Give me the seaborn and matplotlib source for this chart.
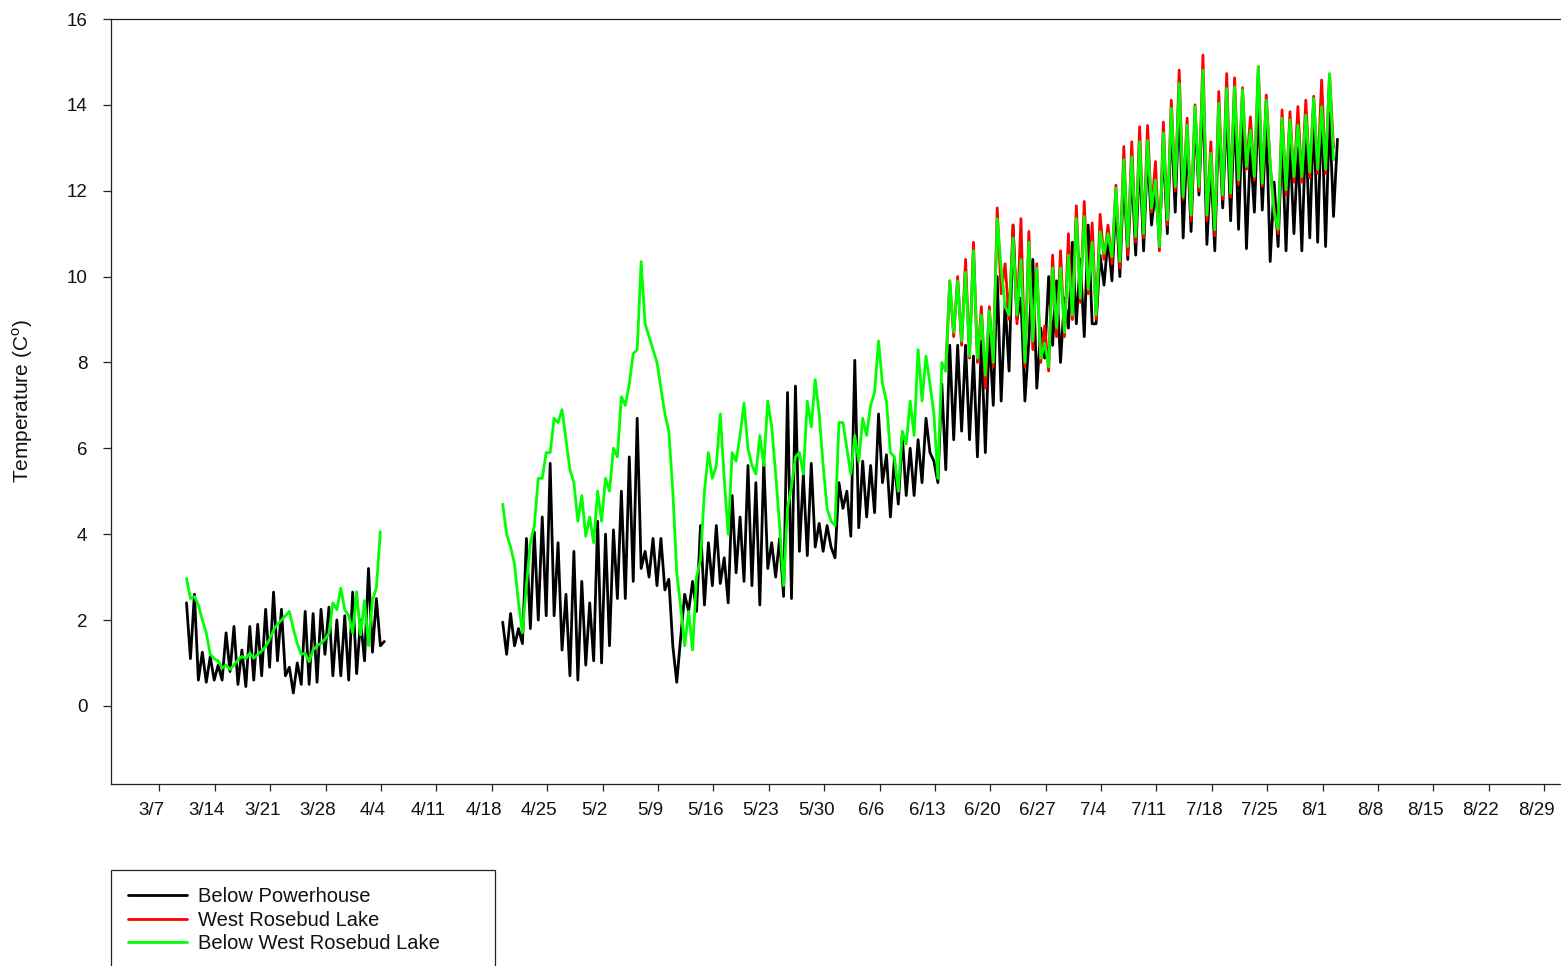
import numpy as np
import pandas as pd
import matplotlib
matplotlib.use("Agg")
import matplotlib.pyplot as plt
from matplotlib.transforms import ScaledTranslation
from matplotlib.lines import Line2D
import seaborn as sns

# ---------------------------------------------------------------------------
# Water temperature (deg C), 12-hourly readings, two logging deployments
# ---------------------------------------------------------------------------
series_names = ["Below Powerhouse", "West Rosebud Lake", "Below West Rosebud Lake"]
series_colors = ["#000000", "#ff0000", "#00ff00"]

# first deployment
spring_start = "2003-03-10 10:00"
powerhouse_spring = [
    2.4, 1.1, 2.6, 0.6, 1.25, 0.55, 1.15, 0.6, 0.95, 0.6,
    1.7, 0.8, 1.85, 0.5, 1.3, 0.45, 1.85, 0.6, 1.9, 0.7,
    2.25, 0.9, 2.65, 1.05, 2.25, 0.7, 0.9, 0.3, 1.0, 0.5,
    2.2, 0.5, 2.15, 0.55, 2.25, 1.2, 2.3, 0.7, 2.0, 0.7,
    2.1, 0.6, 2.65, 0.75, 2.0, 1.05, 3.2, 1.25, 2.5, 1.4,
    1.5,
]
below_lake_spring = [
    2.97, 2.5, 2.55, 2.35, 2.0, 1.7, 1.2, 1.1, 1.05, 0.88,
    0.95, 0.85, 0.95, 1.07, 1.15, 1.1, 1.23, 1.11, 1.2, 1.28,
    1.38, 1.55, 1.77, 1.9, 2.0, 2.1, 2.2, 1.8, 1.45, 1.2,
    1.23, 1.03, 1.3, 1.4, 1.46, 1.55, 1.69, 2.4, 2.24, 2.74,
    2.24, 2.1, 1.7, 2.66, 1.65, 2.45, 1.4, 2.47, 2.75, 4.06,
]

# second deployment
summer_start = "2003-04-19 09:00"
powerhouse_summer = [
    1.95, 1.2, 2.15, 1.4, 1.8, 1.45, 3.9, 1.8, 4.05, 2.0,
    4.4, 2.1, 5.65, 2.1, 3.8, 1.3, 2.6, 0.7, 3.6, 0.6,
    2.9, 0.95, 2.4, 1.05, 4.3, 1.0, 4.0, 1.4, 4.1, 2.5,
    5.0, 2.5, 5.8, 2.9, 6.7, 3.2, 3.6, 3.0, 3.9, 2.8,
    3.9, 2.7, 2.95, 1.4, 0.55, 1.6, 2.6, 2.2, 2.9, 2.2,
    4.2, 2.35, 3.8, 2.8, 4.2, 2.85, 3.45, 2.4, 4.9, 3.1,
    4.4, 2.9, 5.6, 2.8, 5.2, 2.35, 5.7, 3.2, 3.8, 3.0,
    3.9, 2.55, 7.3, 2.5, 7.45, 3.6, 5.4, 3.5, 5.65, 3.7,
    4.25, 3.6, 4.2, 3.7, 3.45, 5.2, 4.6, 5.0, 3.95, 8.05,
    4.15, 5.7, 4.4, 5.6, 4.5, 6.8, 5.2, 5.85, 4.4, 5.75,
    4.7, 6.3, 4.9, 6.0, 4.9, 6.2, 5.2, 6.7, 5.9, 5.7,
    5.2, 7.5, 5.5, 8.4, 6.2, 8.4, 6.4, 8.4, 6.2, 8.15,
    5.8, 8.5, 5.9, 8.7, 7.0, 10.0, 7.1, 9.4, 7.8, 11.2,
    9.0, 9.5, 7.1, 8.5, 10.4, 7.4, 8.8, 8.1, 10.0, 8.4,
    9.9, 8.0, 9.5, 8.8, 10.8, 8.9, 10.4, 8.6, 11.2, 8.9,
    8.9, 10.5, 9.8, 10.9, 9.9, 11.8, 10.0, 12.4, 10.4, 12.5,
    10.5, 12.8, 10.6, 12.9, 11.2, 12.0, 10.9, 13.0, 11.0, 13.6,
    11.5, 14.2, 10.9, 13.2, 11.05, 13.7, 11.9, 14.3, 10.75, 12.6,
    10.6, 13.7, 11.6, 13.9, 11.3, 13.9, 11.1, 13.8, 10.65, 13.0,
    11.5, 14.0, 11.55, 13.6, 10.35, 12.2, 10.7, 13.2, 10.6, 13.1,
    11.0, 13.0, 10.6, 13.4, 10.9, 13.8, 10.8, 14.0, 10.7, 13.8,
    11.4, 13.2,
]
below_lake_summer = [
    4.7, 4.0, 3.7, 3.3, 2.4, 1.7, 2.8, 3.8, 4.2, 5.3,
    5.3, 5.9, 5.9, 6.7, 6.6, 6.9, 6.2, 5.5, 5.2, 4.3,
    4.9, 3.95, 4.4, 3.8, 5.0, 4.3, 5.3, 5.0, 6.0, 5.8,
    7.2, 7.0, 7.5, 8.2, 8.3, 10.35, 8.9, 8.6, 8.3, 8.0,
    7.4, 6.8, 6.4, 5.0, 3.1, 2.3, 1.4, 2.2, 1.3, 3.0,
    3.4, 5.0, 5.9, 5.3, 5.6, 6.8, 5.3, 4.0, 5.9, 5.7,
    6.3, 7.05, 6.0, 5.6, 5.4, 6.3, 5.6, 7.1, 6.5, 5.4,
    4.2, 2.8, 4.6, 5.1, 5.8, 5.9, 5.4, 7.1, 6.5, 7.6,
    6.8, 5.6, 4.6, 4.3, 4.2, 6.6, 6.6, 6.0, 5.4, 6.3,
    5.7, 6.7, 6.3, 7.0, 7.3, 8.5, 7.5, 7.1, 5.9, 5.8,
    5.0, 6.4, 6.1, 7.1, 6.3, 8.3, 7.1, 8.15, 7.5, 6.8,
    5.3, 8.0, 7.8, 9.9, 8.7, 9.9, 8.5, 10.1, 8.15, 10.6,
    8.1, 9.1, 7.7, 9.2, 8.0, 11.35, 10.2, 9.3, 9.1, 10.9,
    9.1, 10.4, 8.0, 10.8, 8.5, 10.2, 8.1, 8.45, 7.9, 10.2,
    8.8, 10.2, 8.7, 10.5, 9.1, 11.35, 9.5, 11.4, 9.7, 10.8,
    9.1, 11.05, 10.54, 11.0, 10.46, 12.06, 10.35, 12.72, 10.7, 12.79,
    10.93, 13.14, 11.0, 13.17, 11.59, 12.25, 10.7, 13.34, 11.32, 13.92,
    12.09, 14.5, 11.86, 13.53, 11.43, 13.96, 12.09, 14.81, 11.43, 12.87,
    11.09, 14.04, 11.9, 14.38, 11.94, 14.42, 12.25, 14.35, 12.56, 13.41,
    12.33, 14.89, 12.17, 14.11, 12.6, 11.5, 11.1, 13.69, 12.02, 13.65,
    12.33, 13.53, 12.33, 13.76, 12.43, 14.15, 12.5, 13.96, 12.5, 14.73,
    12.72,
]

# lake logger, deployed mid-June
lake_start = "2003-06-14 09:00"
lake_summer = [
    7.8, 9.9, 8.6, 10.0, 8.4, 10.4, 8.1, 10.8,
    8.0, 9.3, 7.4, 9.3, 7.9, 11.6, 9.6, 10.3, 9.0, 11.2,
    8.9, 11.35, 7.9, 11.05, 8.3, 10.3, 8.0, 8.85, 7.8, 10.5,
    8.6, 10.6, 8.6, 11.0, 9.0, 11.65, 9.4, 11.75, 9.6, 11.25,
    9.0, 11.45, 10.4, 11.2, 10.3, 12.13, 10.2, 13.03, 10.5, 13.14,
    10.8, 13.49, 10.9, 13.52, 11.5, 12.68, 10.6, 13.6, 11.2, 14.11,
    12.0, 14.81, 11.8, 13.69, 11.3, 14.0, 12.0, 15.16, 11.3, 13.14,
    10.95, 14.31, 11.8, 14.73, 11.85, 14.63, 12.15, 14.4, 12.5, 13.72,
    12.25, 14.89, 12.1, 14.23, 12.6, 11.55, 11.0, 13.88, 11.9, 13.84,
    12.2, 13.96, 12.2, 14.11, 12.3, 14.2, 12.4, 14.58, 12.4, 14.7,
    13.0,
]

week_labels = ["3/7", "3/14", "3/21", "3/28", "4/4", "4/11", "4/18", "4/25",
               "5/2", "5/9", "5/16", "5/23", "5/30", "6/6", "6/13", "6/20",
               "6/27", "7/4", "7/11", "7/18", "7/25", "8/1", "8/8", "8/15",
               "8/22", "8/29"]
y_ticks = [0, 2, 4, 6, 8, 10, 12, 14, 16]


def deployment(values, start, series, seg):
    times = pd.date_range(start, periods=len(values), freq="12h")
    return pd.DataFrame({"time": times, "temp": values,
                         "series": series, "segment": seg})


frames = {
    series_names[0]: [deployment(powerhouse_spring, spring_start, series_names[0], "spring"),
                      deployment(powerhouse_summer, summer_start, series_names[0], "summer")],
    series_names[1]: [deployment(lake_summer, lake_start, series_names[1], "summer")],
    series_names[2]: [deployment(below_lake_spring, spring_start, series_names[2], "spring"),
                      deployment(below_lake_summer, summer_start, series_names[2], "summer")],
}

sns.set_theme(style="ticks")
plt.rcParams["font.family"] = ["Liberation Sans", "DejaVu Sans"]
plt.rcParams["mathtext.fontset"] = "custom"
plt.rcParams["mathtext.rm"] = "Liberation Sans"

W, H = 1561, 966
fig = plt.figure(figsize=(W / 100, H / 100), dpi=100)
ax = fig.add_axes([111 / W, 1 - 784 / H, (1560 - 111) / W, (784 - 19) / H])

LW = 2.0
for name, color in zip(series_names, series_colors):
    data = pd.concat(frames[name], ignore_index=True)
    sns.lineplot(data=data, x="time", y="temp", units="segment", estimator=None,
                 color=color, linewidth=LW, sort=False, legend=False, ax=ax)

tick_dates = pd.to_datetime([f"2003/{lab}" for lab in week_labels], format="%Y/%m/%d")
ax.set_xticks(tick_dates)
ax.set_xticklabels(week_labels)
ax.set_xlim(pd.Timestamp("2003-02-28 21:00"), pd.Timestamp("2003-08-31 00:00"))
ax.set_yticks(y_ticks)
ax.set_yticklabels([str(v) for v in y_ticks])
ax.set_ylim(-1.82, 16)

ax.set_xlabel("")
ax.set_ylabel("Temperature (C$^{\\mathrm{o}}$)", fontsize=15, color="#111111")
ax.yaxis.set_label_coords(-0.0525, 0.5)

for side in ["top", "left", "bottom"]:
    ax.spines[side].set_visible(True)
    ax.spines[side].set_color("#222222")
    ax.spines[side].set_linewidth(0.9)
ax.spines["right"].set_visible(False)

ax.tick_params(axis="x", direction="out", length=5, width=0.9, pad=8,
               labelsize=13.5, colors="#222222", labelcolor="#111111", top=False)
ax.tick_params(axis="y", direction="out", length=6, width=0.9, pad=11,
               labelsize=13.5, colors="#222222", labelcolor="#111111", right=False)
shift = ScaledTranslation(-8 / 100, 0, fig.dpi_scale_trans)
for lab in ax.get_xticklabels():
    lab.set_transform(lab.get_transform() + shift)

handles = [Line2D([0], [0], color=c, linewidth=LW) for c in series_colors]
leg = fig.legend(handles, series_names, loc="upper left",
                 bbox_to_anchor=(111 / W, 0, 384 / W, 1 - 870 / H),
                 mode="expand", borderaxespad=0, fontsize=14.5,
                 handlelength=2.9, handletextpad=0.55, borderpad=0.85,
                 labelspacing=0.22, fancybox=False, framealpha=1,
                 edgecolor="#222222", labelcolor="#111111")
leg.get_frame().set_linewidth(0.9)

fig.savefig("out.png", dpi=100)
